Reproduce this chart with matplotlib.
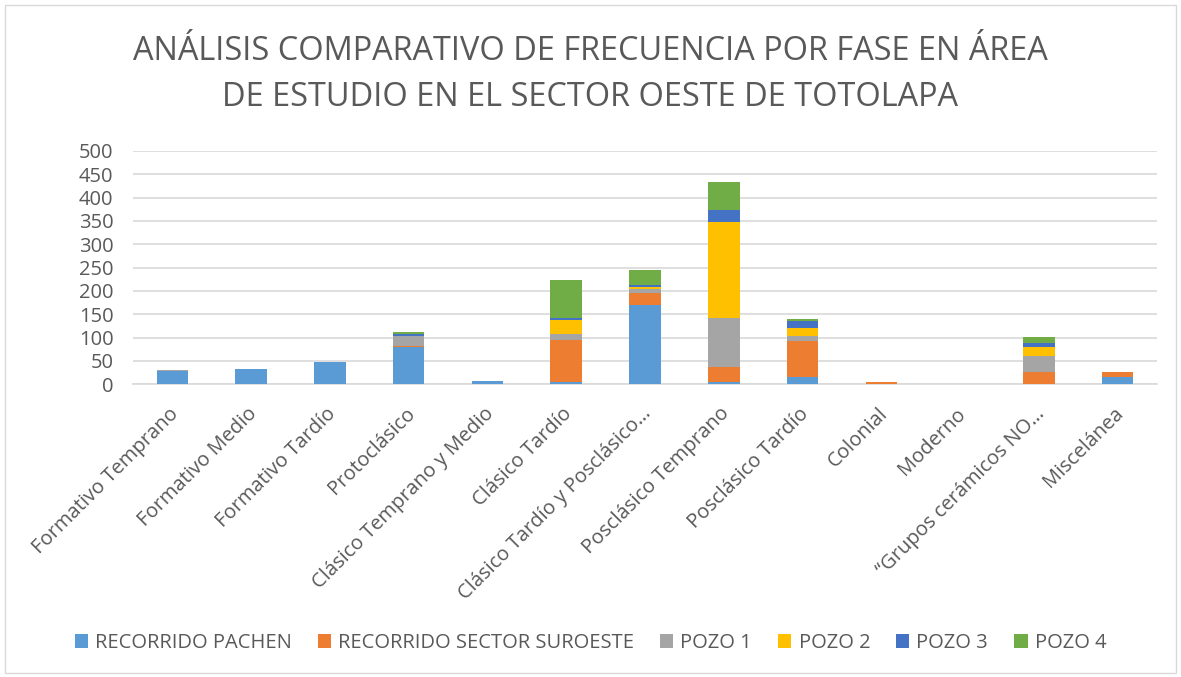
import matplotlib
matplotlib.use("Agg")
import matplotlib.pyplot as plt
from matplotlib.patches import Rectangle
import matplotlib.transforms as mtransforms
import numpy as np

plt.rcParams['font.family'] = ['Open Sans', 'DejaVu Sans']

categories = [
    "Formativo Temprano", "Formativo Medio", "Formativo Tardío", "Protoclásico",
    "Clásico Temprano y Medio", "Clásico Tardío", "Clásico Tardío y Posclásico…",
    "Posclásico Temprano", "Posclásico Tardío", "Colonial", "Moderno",
    "“Grupos cerámicos NO…", "Miscelánea",
]

series_names = ["RECORRIDO PACHEN", "RECORRIDO SECTOR SUROESTE",
                "POZO 1", "POZO 2", "POZO 3", "POZO 4"]

recorrido_pachen   = [28, 33, 48, 79, 7, 6, 171, 6, 16, 0, 0, 0, 15]
recorrido_suroeste = [0, 0, 0, 3, 0, 90, 24, 31, 77, 6, 0, 27, 11]
pozo_1             = [2, 0, 0, 21, 0, 11, 9, 106, 11, 0, 0, 34, 0]
pozo_2             = [0, 0, 0, 0, 0, 31, 5, 204, 17, 0, 0, 19, 0]
pozo_3             = [0, 0, 0, 4, 0, 4, 3, 26, 15, 0, 0, 9, 0]
pozo_4             = [0, 0, 0, 5, 0, 82, 32, 60, 5, 0, 0, 12, 0]

series = [recorrido_pachen, recorrido_suroeste, pozo_1, pozo_2, pozo_3, pozo_4]
colors = ["#5B9BD5", "#ED7D31", "#A5A5A5", "#FFC000", "#4472C4", "#70AD47"]

W, H = 1181, 677
fig = plt.figure(figsize=(W / 100, H / 100), dpi=100)
ax = fig.add_axes([133 / W, 1 - 384.3 / H, (1157 - 133) / W, (384.3 - 151) / H])

x = np.arange(len(categories))
bottom = np.zeros(len(categories))
for name, vals, c in zip(series_names, series, colors):
    vals = np.array(vals, dtype=float)
    ax.bar(x, vals, width=0.4, bottom=bottom, color=c, label=name,
           linewidth=0, zorder=3)
    bottom += vals

text_color = "#595959"
ax.set_xlim(-0.5, len(categories) - 0.5)
ax.set_ylim(0, 500)
ax.set_yticks(np.arange(0, 501, 50))
ax.yaxis.grid(True, color="#D9D9D9", linewidth=1.2, zorder=0)
ax.set_axisbelow(True)
for s in ["top", "right", "left"]:
    ax.spines[s].set_visible(False)
ax.spines["bottom"].set_color("#D9D9D9")
ax.spines["bottom"].set_linewidth(1.2)
ax.tick_params(axis="both", length=0, colors=text_color, labelsize=14.5)
ax.tick_params(axis="y", pad=14)
ax.tick_params(axis="x", pad=14)
ax.set_xticks(x)
ax.set_xticklabels(categories, rotation=45, ha="right", rotation_mode="anchor",
                   fontsize=14.5, color=text_color)
shift = mtransforms.ScaledTranslation(-4 / 100, 0, fig.dpi_scale_trans)
for lbl in ax.get_xticklabels():
    lbl.set_transform(lbl.get_transform() + shift)

fig.text(0.5, 1 - 52 / H, "ANÁLISIS COMPARATIVO DE FRECUENCIA POR FASE EN ÁREA",
         ha="center", va="center", fontsize=23.4, color=text_color)
fig.text(0.5, 1 - 97 / H, "DE ESTUDIO EN EL SECTOR OESTE DE TOTOLAPA",
         ha="center", va="center", fontsize=23.4, color=text_color)

leg = fig.legend(loc="center", bbox_to_anchor=(0.5, 1 - 643 / H), ncol=6,
                 frameon=False, fontsize=14.5, handlelength=0.65, handleheight=0.65,
                 handletextpad=0.35, columnspacing=1.3)
for t in leg.get_texts():
    t.set_color(text_color)

fig.patches.append(Rectangle((5 / W, 4 / H), (W - 10) / W, (H - 9) / H,
                             transform=fig.transFigure, fill=False,
                             edgecolor="#D9D9D9", linewidth=1))

fig.savefig("out.png", dpi=100)
